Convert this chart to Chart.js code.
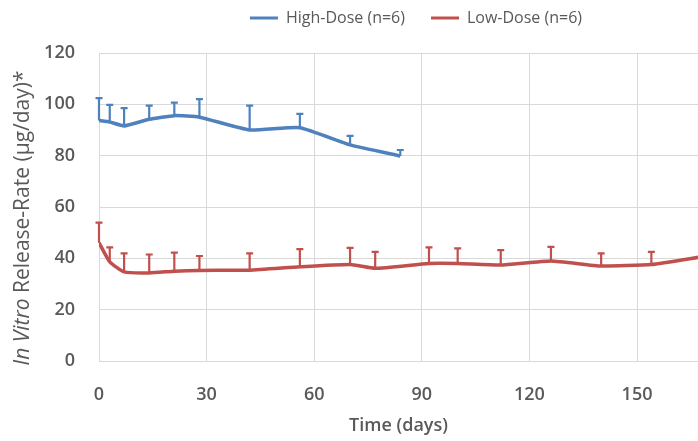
<!DOCTYPE html>
<html>
<head>
    <title>In Vitro Release-Rate</title>
    <script src="https://cdn.jsdelivr.net/npm/chart.js"></script>
    <style>
        body { margin: 0; background: #fff; }
        #wrap { width: 698px; height: 441px; }
    </style>
</head>
<body>
    <div id="wrap"><canvas id="myChart"></canvas></div>
    <script>
        // Days sampled for each group
        const highDays = [0, 3, 7, 14, 21, 28, 42, 56, 70, 84];
        const lowDays = [0, 3, 7, 14, 21, 28, 42, 56, 70, 77, 92, 100, 112, 126, 140, 154, 168];

        // Mean release rate (µg/day)
        const highDose = [93.7, 93.1, 91.6, 94.2, 95.6, 95.0, 90.0, 90.9, 84.2, 79.9];
        const lowDose = [46.1, 38.6, 34.7, 34.3, 35.0, 35.3, 35.4, 36.7, 37.6, 36.1, 38.0, 38.0, 37.4, 39.0, 37.0, 37.6, 40.6];

        // Upper error bars (SD)
        const highErr = [8.7, 6.7, 6.9, 5.3, 5.1, 7.0, 9.5, 5.4, 3.5, 2.3];
        const lowErr = [7.8, 5.7, 7.2, 7.2, 7.2, 5.6, 6.5, 6.9, 6.5, 6.4, 6.3, 5.9, 5.8, 5.5, 4.9, 4.9, 5.0];

        const seriesLabels = ['High-Dose (n=6)', 'Low-Dose (n=6)'];
        const xTitle = 'Time (days)';
        const yTitleItalic = 'In Vitro';
        const yTitleRest = ' Release-Rate (µg/day)*';

        const textColor = '#595959';
        const gridColor = '#d9d9d9';
        const fontFamily = '"Open Sans", sans-serif';

        const toPoints = (xs, ys) => xs.map((x, i) => ({ x: x, y: ys[i] }));

        // draws the upper error bars using the chart's own scales
        const errorBars = {
            id: 'errorBars',
            afterDatasetsDraw(chart) {
                const ctx = chart.ctx;
                const yScale = chart.scales.y;
                const area = chart.chartArea;
                ctx.save();
                ctx.beginPath();
                ctx.rect(area.left - 5, area.top - 5, area.right - area.left + 10, area.bottom - area.top + 10);
                ctx.clip();
                chart.data.datasets.forEach((ds, di) => {
                    const meta = chart.getDatasetMeta(di);
                    if (!ds.errors) return;
                    ctx.strokeStyle = ds.borderColor;
                    ctx.lineWidth = 2.2;
                    meta.data.forEach((pt, i) => {
                        const top = yScale.getPixelForValue(ds.data[i].y + ds.errors[i]);
                        ctx.beginPath();
                        ctx.moveTo(pt.x, pt.y);
                        ctx.lineTo(pt.x, top);
                        ctx.moveTo(pt.x - 3.5, top);
                        ctx.lineTo(pt.x + 3.5, top);
                        ctx.stroke();
                    });
                });
                ctx.restore();
            }
        };

        // y axis title with the italic part
        const yTitle = {
            id: 'yTitle',
            afterDraw(chart) {
                const ctx = chart.ctx;
                ctx.save();
                ctx.translate(23, 218);
                ctx.rotate(-Math.PI / 2);
                ctx.textBaseline = 'middle';
                ctx.fillStyle = textColor;
                const italicFont = 'italic 21px ' + fontFamily;
                const normalFont = '21px ' + fontFamily;
                ctx.font = italicFont;
                const w1 = ctx.measureText(yTitleItalic).width;
                ctx.font = normalFont;
                const w2 = ctx.measureText(yTitleRest).width;
                let x = -(w1 + w2) / 2;
                ctx.font = italicFont;
                ctx.fillText(yTitleItalic, x, 0);
                ctx.font = normalFont;
                ctx.fillText(yTitleRest, x + w1, 0);
                ctx.restore();
            }
        };

        // legend: fixed height and pushed a bit right, like the original
        const legendPlace = {
            id: 'legendPlace',
            beforeInit(chart) {
                const fit = chart.legend.fit;
                chart.legend.fit = function () {
                    fit.call(this);
                    this.height = 53;
                };
            },
            afterLayout(chart) {
                chart.legend.left += 67;
                chart.legend.right += 67;
                chart.legend.top -= 16;
                chart.legend.bottom -= 16;
            }
        };

        const ctx = document.getElementById('myChart').getContext('2d');
        const myChart = new Chart(ctx, {
            type: 'line',
            data: {
                datasets: [{
                    label: seriesLabels[0],
                    data: toPoints(highDays, highDose),
                    errors: highErr,
                    borderColor: '#4F81BD',
                    backgroundColor: '#4F81BD',
                    borderWidth: 3.5,
                    pointRadius: 0,
                    tension: 0.15
                }, {
                    label: seriesLabels[1],
                    data: toPoints(lowDays, lowDose),
                    errors: lowErr,
                    borderColor: '#C0504D',
                    backgroundColor: '#C0504D',
                    borderWidth: 3.5,
                    pointRadius: 0,
                    tension: 0.15
                }]
            },
            options: {
                responsive: true,
                maintainAspectRatio: false,
                animation: false,
                layout: { padding: 0 },
                plugins: {
                    tooltip: { enabled: false },
                    legend: {
                        position: 'top',
                        labels: {
                            boxWidth: 28,
                            boxHeight: 3,
                            padding: 26,
                            color: textColor,
                            font: { family: fontFamily, size: 16 },
                            generateLabels: (chart) => Chart.defaults.plugins.legend.labels.generateLabels(chart)
                                .map(l => Object.assign(l, { lineWidth: 0 }))
                        }
                    }
                },
                scales: {
                    x: {
                        type: 'linear',
                        min: 0,
                        max: 167,
                        afterFit(scale) { scale.height = 80; },
                        ticks: {
                            stepSize: 30,
                            includeBounds: false,
                            padding: 23,
                            color: textColor,
                            font: { family: fontFamily, size: 18, weight: '600' }
                        },
                        grid: { color: gridColor, drawTicks: false },
                        border: { color: gridColor },
                        title: {
                            display: true,
                            text: xTitle,
                            color: textColor,
                            padding: { top: 4 },
                            font: { family: fontFamily, size: 18, weight: '600' }
                        }
                    },
                    y: {
                        min: 0,
                        max: 120,
                        afterFit(scale) { scale.width = 99; },
                        ticks: {
                            stepSize: 20,
                            padding: 24,
                            color: textColor,
                            font: { family: fontFamily, size: 18, weight: '600' }
                        },
                        grid: { color: gridColor, drawTicks: false },
                        border: { color: gridColor }
                    }
                }
            },
            plugins: [errorBars, yTitle, legendPlace]
        });
    </script>
</body>
</html>
